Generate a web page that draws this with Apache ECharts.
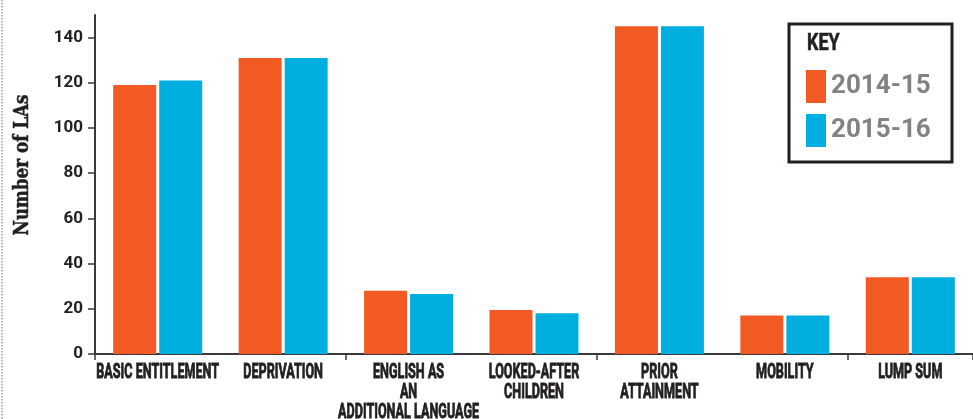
<!DOCTYPE html>
<html>
<head>
<meta charset="utf-8">
<script src="https://cdn.jsdelivr.net/npm/echarts@6/dist/echarts.min.js"></script>
<style>
  html, body { margin: 0; padding: 0; background: #fff; }
  #chart { width: 973px; height: 419px; }
</style>
</head>
<body>
<div id="chart"></div>
<script>
// Funding factors used by local authorities, two financial years
const categories = [
  'BASIC ENTITLEMENT',
  'DEPRIVATION',
  'ENGLISH AS\nAN\nADDITIONAL LANGUAGE',
  'LOOKED-AFTER\nCHILDREN',
  'PRIOR\nATTAINMENT',
  'MOBILITY',
  'LUMP SUM'
];
const seriesNames = ['2014-15', '2015-16'];
const values2014 = [119, 131, 28, 19.5, 145, 17, 34];
const values2015 = [121, 131, 26.5, 18, 145, 17, 34];
const yTicks = [0, 20, 40, 60, 80, 100, 120, 140];

const ORANGE = '#F15A22';
const BLUE = '#00AEDF';
const AXIS = '#3a3a3c';
const INK = '#231f20';
const SANS = 'Roboto, "Liberation Sans", sans-serif';

const chart = echarts.init(document.getElementById('chart'), null, { renderer: 'canvas' });

chart.setOption({
  animation: false,
  backgroundColor: '#ffffff',
  grid: { left: 95, top: 15, width: 886, bottom: 65, containLabel: false },
  xAxis: {
    type: 'category',
    data: categories,
    axisLine: { lineStyle: { color: AXIS, width: 2 } },
    axisTick: { show: true, length: 6, lineStyle: { color: AXIS, width: 1.5 } },
    // category names are drawn below as narrowed text
    axisLabel: { show: false }
  },
  yAxis: {
    type: 'value',
    min: 0,
    max: 150,
    interval: 20,
    splitLine: { show: false },
    axisLine: { show: true, lineStyle: { color: AXIS, width: 2 } },
    axisTick: { show: true, length: 7, customValues: yTicks, lineStyle: { color: AXIS, width: 1.5 } },
    axisLabel: {
      customValues: yTicks,
      margin: 12,
      color: INK,
      fontFamily: SANS,
      fontWeight: 'bold',
      fontSize: 17
    }
  },
  legend: {
    data: seriesNames,
    orient: 'vertical',
    left: 806,
    top: 70,
    padding: 0,
    itemWidth: 20,
    itemHeight: 33,
    itemGap: 11,
    icon: 'rect',
    textStyle: {
      color: '#808285',
      fontFamily: SANS,
      fontWeight: 'bold',
      fontSize: 26
    }
  },
  series: [
    {
      name: seriesNames[0],
      type: 'bar',
      data: values2014,
      barWidth: 43,
      barGap: '7%',
      itemStyle: { color: ORANGE }
    },
    {
      name: seriesNames[1],
      type: 'bar',
      data: values2015,
      barWidth: 43,
      barGap: '7%',
      itemStyle: { color: BLUE }
    }
  ]
});

// Category names: condensed capitals centred under each band
const baseY = chart.convertToPixel({ yAxisIndex: 0 }, 0);
const categoryLabels = categories.map((name, i) => ({
  type: 'text',
  id: 'cat' + i,
  x: chart.convertToPixel({ xAxisIndex: 0 }, i),
  y: baseY + 9,
  scaleX: 0.6,
  style: {
    text: name,
    fill: INK,
    stroke: INK,
    lineWidth: 0.9,
    font: 'bold 21px ' + SANS,
    lineHeight: 20,
    align: 'center',
    verticalAlign: 'top'
  },
  silent: true
}));

chart.setOption({
  graphic: [
    {
      // dotted page rule along the left edge
      type: 'line',
      id: 'pageRule',
      shape: { x1: 2, y1: 0, x2: 2, y2: 419 },
      style: { stroke: '#9a9a9a', lineWidth: 1.5, lineDash: [1.5, 1.5] },
      silent: true
    },
    {
      type: 'rect',
      id: 'keyBox',
      shape: { x: 789, y: 24, width: 163, height: 138 },
      style: { fill: 'none', stroke: INK, lineWidth: 3 },
      silent: true
    },
    {
      type: 'text',
      id: 'keyTitle',
      x: 807,
      y: 33,
      scaleX: 0.78,
      style: {
        text: 'KEY',
        fill: INK,
        stroke: INK,
        lineWidth: 0.6,
        font: 'bold 23px ' + SANS,
        verticalAlign: 'top'
      },
      silent: true
    },
    {
      type: 'text',
      id: 'yName',
      x: 23,
      y: 165,
      rotation: Math.PI / 2,
      scaleX: 0.84,
      style: {
        text: 'Number of LAs',
        fill: INK,
        stroke: INK,
        lineWidth: 0.5,
        font: 'bold 20px "DejaVu Serif", serif',
        align: 'center',
        verticalAlign: 'middle'
      },
      silent: true
    }
  ].concat(categoryLabels)
});
</script>
</body>
</html>
